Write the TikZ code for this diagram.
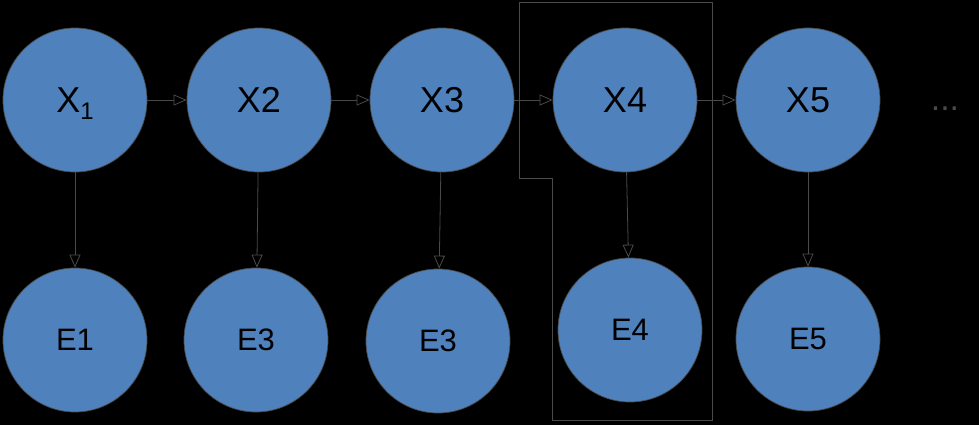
\documentclass[tikz,border=0pt]{standalone}
\usepackage{fontspec}
\setmainfont{Liberation Sans}
\usetikzlibrary{arrows.meta}
\definecolor{nodeblue}{HTML}{4F81BD}
\definecolor{linegray}{HTML}{4A4A4A}
\tikzset{
  state/.style={circle, fill=nodeblue, draw=linegray, line width=0.7pt, minimum size=144pt, inner sep=0pt, text=black},
  xlab/.style={font=\fontsize{36}{40}\selectfont},
  elab/.style={font=\fontsize{31}{36}\selectfont},
  conn/.style={draw=linegray, line width=0.8pt, -{Triangle[open, length=13pt, width=11pt]}},
  frame/.style={draw=linegray, line width=1pt}
}
\begin{document}
\begin{tikzpicture}[x=1pt, y=-1pt]
\fill[black] (0,0) rectangle (979,425);
\useasboundingbox (0,0) rectangle (979,425);
% frame around X4/E4
\draw[frame] (519,3) -- (712,3) -- (712,420) -- (552,420) -- (552,178) -- (519,178) -- cycle;
% top row
\node[state, xlab] (x1) at (75,100) {X\smash{\raisebox{-0.35ex}{\fontsize{24}{26}\selectfont 1}}};
\node[state, xlab] (x2) at (259,100) {X2};
\node[state, xlab] (x3) at (442,100) {X3};
\node[state, xlab] (x4) at (625,100) {X4};
\node[state, xlab] (x5) at (808,100) {X5};
% bottom row
\node[state, elab] (e1) at (75,340) {E1};
\node[state, elab] (e2) at (256,340) {E3};
\node[state, elab] (e3) at (438,341) {E3};
\node[state, elab] (e4) at (630,330) {E4};
\node[state, elab] (e5) at (808,339) {E5};
% dots
\node[text=linegray, font=\fontsize{34}{38}\selectfont, inner sep=0pt, anchor=base] (dots) at (945,111) {...};
% connectors
\draw[conn] (x1) -- (x2);
\draw[conn] (x2) -- (x3);
\draw[conn] (x3) -- (x4);
\draw[conn] (x4) -- (x5);
\draw[conn] (x1) -- (e1);
\draw[conn] (x2) -- (e2);
\draw[conn] (x3) -- (e3);
\draw[conn] (x4) -- (e4);
\draw[conn] (x5) -- (e5);
\end{tikzpicture}
\end{document}
